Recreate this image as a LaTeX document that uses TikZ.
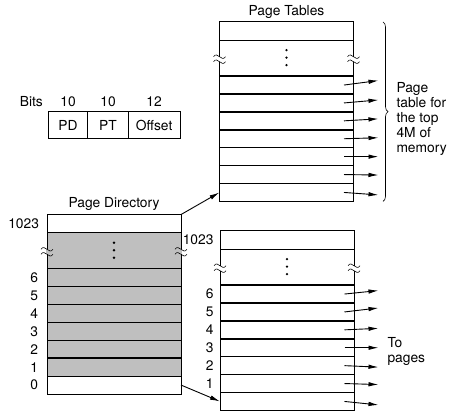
\documentclass[tikz,border=0pt]{standalone}
\usepackage{fontspec}
\setmainfont{TeX Gyre Heros}
\usetikzlibrary{arrows.meta,decorations.pathreplacing}

\tikzset{
  lbl/.style={font=\fontsize{13.8}{15}\selectfont, inner sep=0pt, outer sep=0pt},
  cell/.style={minimum width=134pt, minimum height=17.9pt, inner sep=0pt, outer sep=0pt},
  edge/.style={line width=0.9pt},
  rowline/.style={line width=1.5pt},
  ptr/.style={line width=0.9pt, -{Latex[length=10pt,width=4.5pt]}},
  field/.style={lbl, draw, edge, minimum height=26.6pt, anchor=west},
  % a memory table: top row (1023), elided block, then rows 6..0
  pics/memtable/.style={code={
    \fill[#1] (0,18.4) rectangle (134,161.8);
    \node[cell] (-top) at (67,9.2) {};
    \foreach \k [count=\i from 0] in {6,5,4,3,2,1,0}
      \node[cell] (-r\k) at (67,{63.35+\i*17.9}) {};
    \draw[edge] (0,0) rectangle (134,179.7);
    \draw[edge] (0,18.4) -- (134,18.4);
    \foreach \i in {0,...,5}
      \draw[rowline] (0,{54.4+\i*17.9}) -- (134,{54.4+\i*17.9});
    \draw[edge] (0,161.8) -- (134,161.8);
    % vertical ellipsis
    \foreach \dy in {28.5,36,43.5}
      \fill (67,\dy) circle (1.3pt);
    % break marks on both side edges
    \foreach \bx in {0,134} {
      \fill[#1] (\bx-0.7,35) rectangle (\bx+0.7,40);
      \foreach \wy in {35,40}
        \draw[line width=0.6pt] (\bx-6,\wy) .. controls (\bx-2,\wy-6) and (\bx+2,\wy+6) .. (\bx+6,\wy);
    }
  }}
}

\begin{document}
\begin{tikzpicture}[x=1pt, y=-1pt]
\useasboundingbox (0,0) rectangle (451,411);

% address format
\node[lbl] (bits) at (31.3,101.7) {Bits};
\node[field, minimum width=39.4pt] (fpd) at (48.3,125) {PD};
\node[field, minimum width=40.6pt] (fpt) at (fpd.east) {PT};
\node[field, minimum width=51.7pt] (foff) at (fpt.east) {Offset};
\node[lbl] (n1) at ([yshift=10pt]fpd.north) {10};
\node[lbl] (n2) at ([yshift=10pt]fpt.north) {10};
\node[lbl] (n3) at ([yshift=10pt]foff.north) {12};

% the three tables
\pic (pd) at (47,214.3) {memtable=gray!50};
\pic (tp) at (219.5,21.7) {memtable=white};
\pic (bp) at (220,230.7) {memtable=white};

% titles
\node[lbl] (tptitle) at ([yshift=10pt]tp-top.north) {Page Tables};
\node[lbl] (pdtitle) at ([yshift=11pt]pd-top.north) {Page Directory};

% row indices
\node[lbl, anchor=east] (pdl) at ([xshift=-8pt]pd-top.west) {1023};
\foreach \k in {6,5,4,3,2,1,0}
  \node[lbl, anchor=east] (pdl\k) at ([xshift=-9pt]pd-r\k.west) {\k};
\node[lbl, anchor=east] (bpl) at ([xshift=-6.5pt]bp-top.west) {1023};
\foreach \k in {6,5,4,3,2,1}
  \node[lbl, anchor=east] (bpl\k) at ([xshift=-6.5pt]bp-r\k.west) {\k};

% directory entries pointing to page tables
\draw[ptr] (pd-top.north east) -- (tp-r0.west);
\draw[ptr] (pd-r0.east) -- (bp-r0.west);

% page table entries pointing to pages
\foreach \k/\d in {6/-4.5,5/-3,4/-2,3/-1,2/0,1/0.5,0/2.5}
  \draw[ptr] ([xshift=-9.5pt]tp-r\k.east) -- ++(34.5,\d);
\foreach \k/\d in {6/-3.5,5/-4,4/-1.5,3/0,2/1.5,1/1,0/3.5}
  \draw[ptr] ([xshift=-9.5pt]bp-r\k.east) -- ++(34,\d);

% brace and notes
\draw[decorate, decoration={brace, amplitude=5pt}, line width=0.6pt]
  ([xshift=29.5pt]tp-top.north east) -- ([xshift=29.5pt]tp-r0.south east);
\node[lbl, align=left, anchor=west] (bracetxt) at (396.5,119) {Page\\table for\\the top\\4M of\\memory};
\node[lbl, align=left, anchor=west] (topages) at (387.5,351.7) {To\\pages};
\end{tikzpicture}
\end{document}
